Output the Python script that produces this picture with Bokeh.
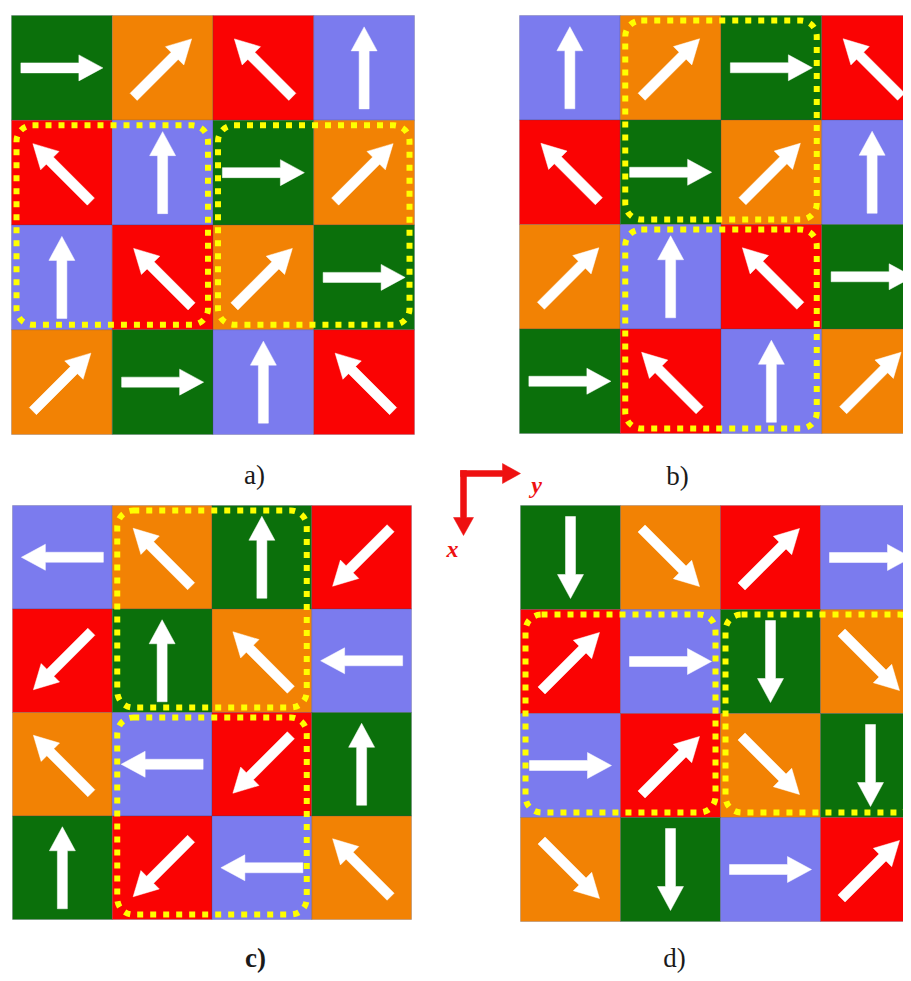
import numpy as np
from bokeh.plotting import figure
from bokeh.models import Range1d
from bokeh.core.properties import value
from bokeh.embed import file_html
from bokeh.resources import INLINE

# ---------------- data ----------------
# colour index: 0 = green, 1 = orange, 2 = red, 3 = blue
cell_colors = ["#0B700B", "#F28204", "#FA0303", "#7B7BEE"]

panel_labels = ["a)", "b)", "c)", "d)"]

grid_a = [[0, 1, 2, 3], [2, 3, 0, 1], [3, 2, 1, 0], [1, 0, 3, 2]]
grid_b = [[3, 1, 0, 2], [2, 0, 1, 3], [1, 3, 2, 0], [0, 2, 3, 1]]
grid_c = [[3, 1, 0, 2], [2, 0, 1, 3], [1, 3, 2, 0], [0, 2, 3, 1]]
grid_d = [[0, 1, 2, 3], [2, 3, 0, 1], [3, 2, 1, 0], [1, 0, 3, 2]]

# arrow direction (degrees, 0 = right, 90 = up) for green, orange, red, blue
angles_a = [0, 45, 135, 90]
angles_b = [0, 45, 135, 90]
angles_c = [90, 135, 225, 180]
angles_d = [270, 315, 45, 0]

# highlighted 2x2 blocks: (first row, last row, first col, last col)
boxes_a = [(1, 2, 0, 1), (1, 2, 2, 3)]
boxes_b = [(0, 1, 1, 2), (2, 3, 1, 2)]
boxes_c = [(0, 1, 1, 2), (2, 3, 1, 2)]
boxes_d = [(1, 2, 0, 1), (1, 2, 2, 3)]

axis_labels = ["x", "y"]

# ---------------- layout (pixel units) ----------------
W, H = 903, 975
frames = [(11, 15, 403, 419), (519, 15, 403, 418), (12, 505, 399, 414), (520, 505, 400, 416)]
label_xy = [(254, 474), (677, 475), (255, 957), (674, 957)]
ARROW_LEN, SHAFT_W, HEAD_W, HEAD_L = 82, 10, 26, 24
BOX_INSET = 5

p = figure(width=W, height=H, output_backend="svg", toolbar_location=None,
           x_range=Range1d(0, W), y_range=Range1d(H, 0),
           min_border=0, outline_line_color=None)
p.axis.visible = False
p.grid.visible = False
p.background_fill_color = "white"
p.border_fill_color = "white"


def arrow_poly(cx, cy, ang, length, sw, hw, hl):
    d = np.array([np.cos(np.radians(ang)), -np.sin(np.radians(ang))])
    n = np.array([-d[1], d[0]])
    c = np.array([cx, cy])
    tail = c - d * length / 2
    tip = c + d * length / 2
    neck = tip - d * hl
    pts = [tail + n * sw / 2, neck + n * sw / 2, neck + n * hw / 2, tip,
           neck - n * hw / 2, neck - n * sw / 2, tail - n * sw / 2]
    return [pt[0] for pt in pts], [pt[1] for pt in pts]


grids = [grid_a, grid_b, grid_c, grid_d]
angles = [angles_a, angles_b, angles_c, angles_d]
boxes = [boxes_a, boxes_b, boxes_c, boxes_d]

L, R, T, B, C = [], [], [], [], []
axs, ays = [], []
bl, br, bt, bb = [], [], [], []
for grid, ang, bx, (x0, y0, w, h) in zip(grids, angles, boxes, frames):
    cw, ch = w / 4, h / 4
    for r, row in enumerate(grid):
        for c, ci in enumerate(row):
            L.append(x0 + c * cw); R.append(x0 + (c + 1) * cw)
            T.append(y0 + r * ch); B.append(y0 + (r + 1) * ch)
            C.append(cell_colors[ci])
            xs, ys = arrow_poly(x0 + (c + 0.5) * cw, y0 + (r + 0.5) * ch, ang[ci],
                                ARROW_LEN, SHAFT_W, HEAD_W, HEAD_L)
            axs.append(xs); ays.append(ys)
    for (r0, r1, c0, c1) in bx:
        bl.append(x0 + c0 * cw + BOX_INSET); br.append(x0 + (c1 + 1) * cw - BOX_INSET)
        bt.append(y0 + r0 * ch + BOX_INSET); bb.append(y0 + (r1 + 1) * ch - BOX_INSET)

p.quad(left=L, right=R, top=T, bottom=B, fill_color=C,
       line_color="#444466", line_alpha=0.25, line_width=1)
p.patches(xs=axs, ys=ays, fill_color="white", line_color="white", line_width=0.5)
p.quad(left=bl, right=br, top=bt, bottom=bb, fill_alpha=0,
       line_color="#FFFF00", line_width=6, line_dash="6 7", border_radius=16)

# panel labels
norm = [i for i in range(4) if i != 2]
p.text(x=[label_xy[i][0] for i in norm], y=[label_xy[i][1] for i in norm],
       text=[panel_labels[i] for i in norm], text_font=value("Liberation Serif"),
       text_font_size="27px", text_align="center", text_baseline="alphabetic",
       text_color="#1a1a1a")
p.text(x=[label_xy[2][0]], y=[label_xy[2][1]], text=[panel_labels[2]],
       text_font=value("Liberation Serif"), text_font_style="bold",
       text_font_size="27px", text_align="center", text_baseline="alphabetic",
       text_color="#1a1a1a")

# axis indicator
red = "#EE1111"
vx, vy = arrow_poly(463, 502.5, 270, 65, 6, 20, 18)
hx, hy = arrow_poly(490, 473, 0, 60, 6, 20, 18)
p.patches(xs=[vx, hx], ys=[vy, hy], fill_color=red, line_color=red, line_width=0.5)
p.text(x=[452, 536], y=[548, 484], text=axis_labels, text_font=value("Liberation Serif"),
       text_font_style="bold italic", text_font_size="24px", text_align="center",
       text_baseline="alphabetic", text_color=red)

open("out.html", "w").write(file_html(p, INLINE))
